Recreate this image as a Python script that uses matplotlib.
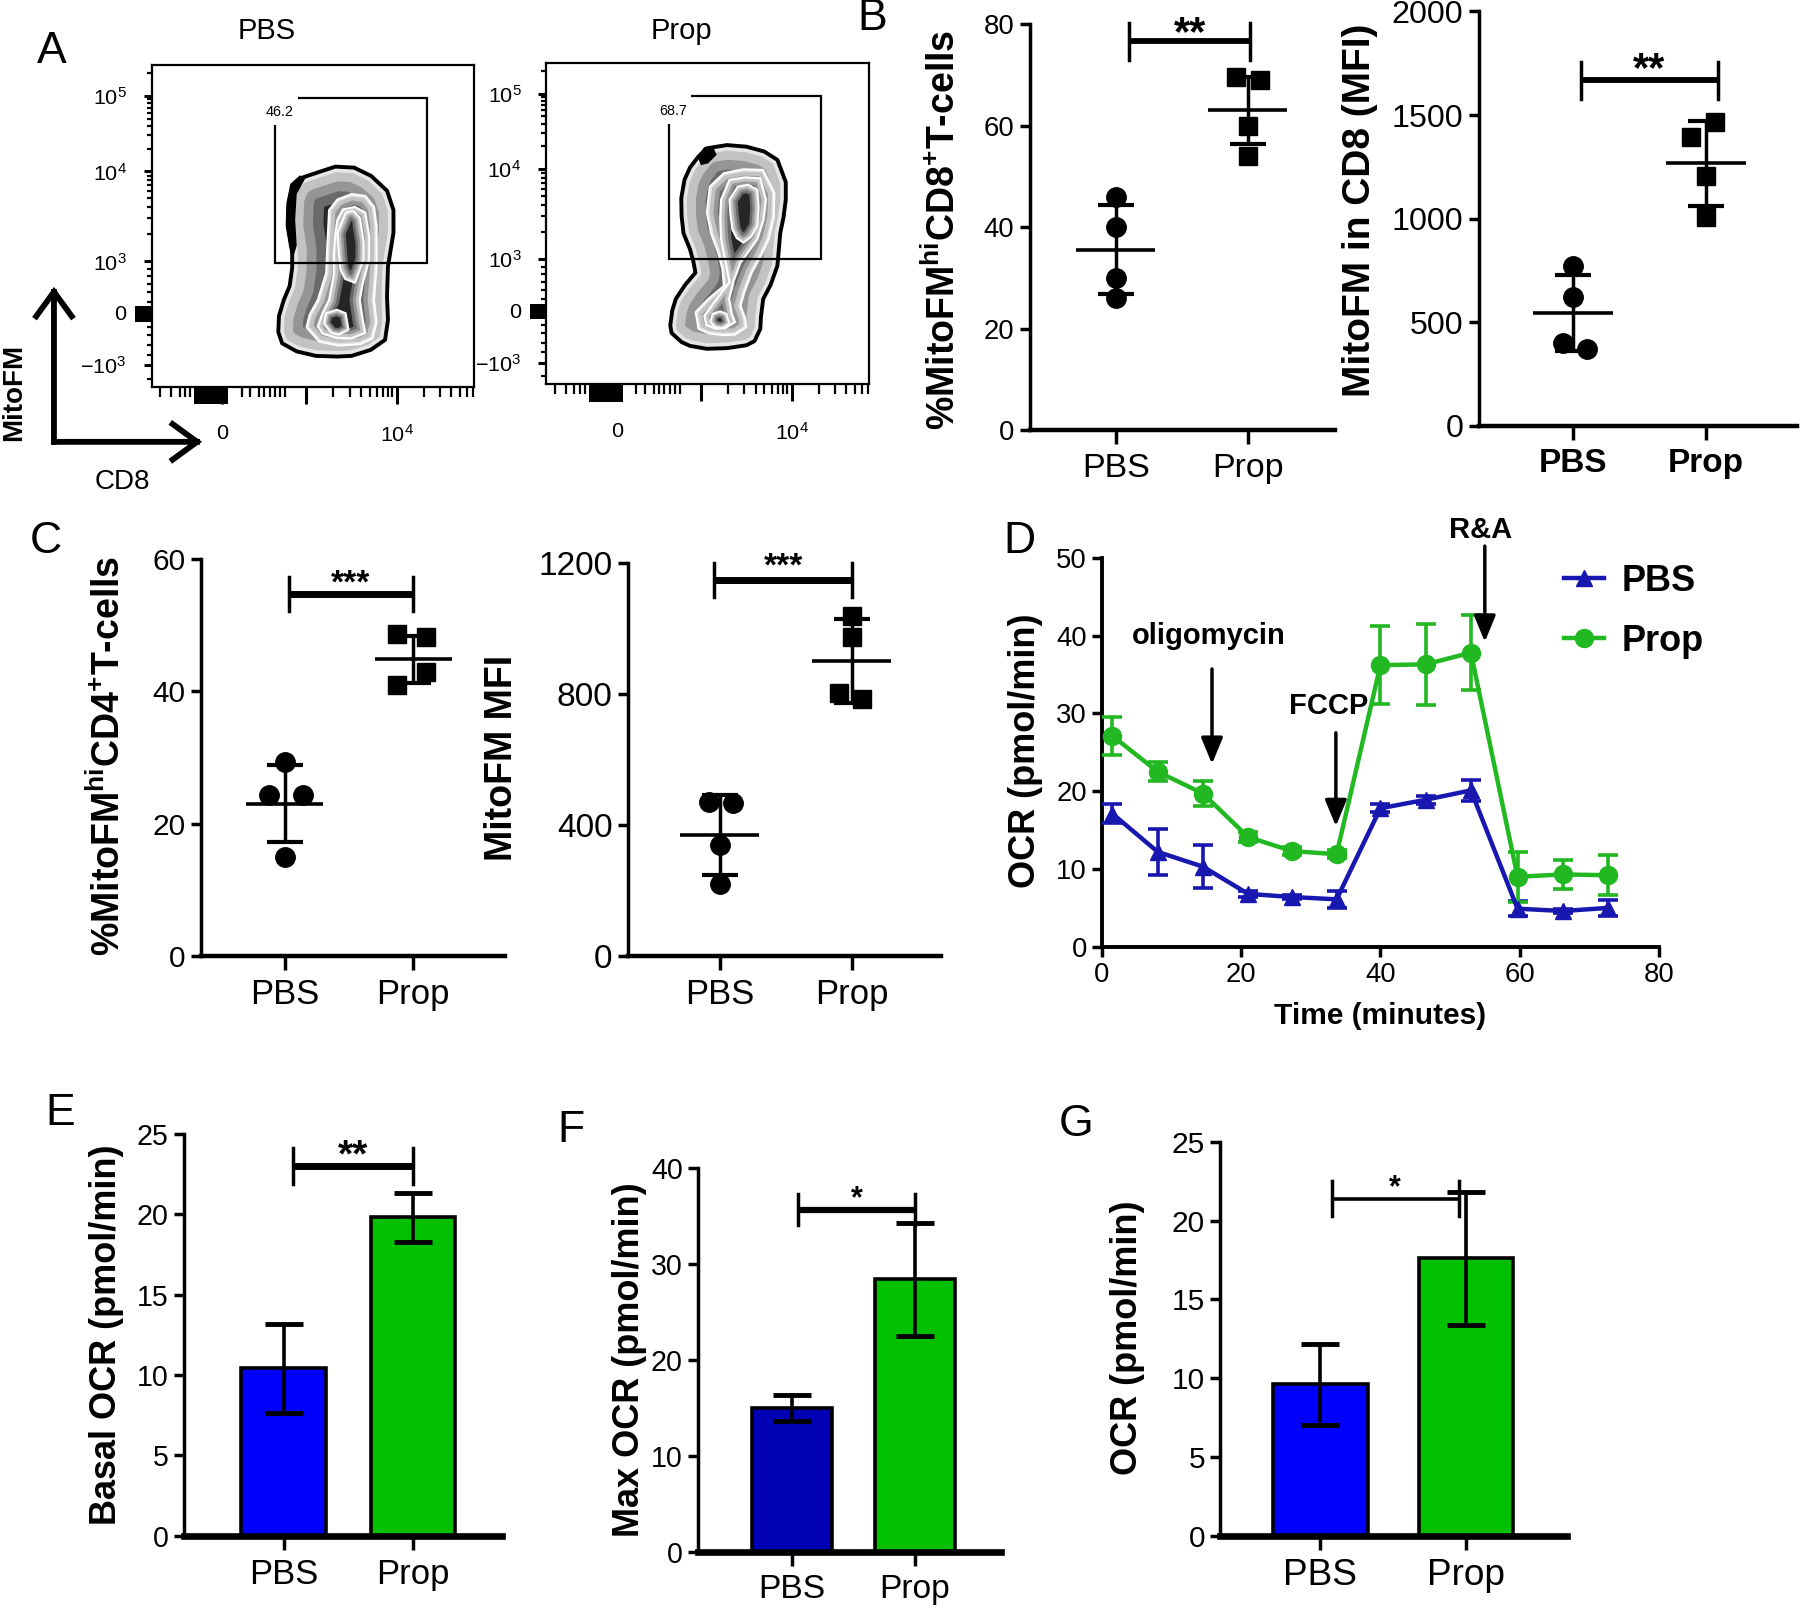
"""
Figure: MitoFM staining (A-C), Seahorse OCR trace (D) and OCR summaries (E-G)
"""

import matplotlib
matplotlib.use("Agg")
import matplotlib.pyplot as plt
import numpy as np
from matplotlib import font_manager
from matplotlib.patches import Polygon, Rectangle, FancyArrowPatch
from matplotlib.transforms import blended_transform_factory


# ─────────────────────────────────────────────
# DATA
# ─────────────────────────────────────────────

GROUPS = ["PBS", "Prop"]

# A: flow plots, contour outlines (plot units 0-100)
PBS_OUTER = [(51.5, 66.7), (57, 68.5), (62.8, 68.2), (68.1, 65.6), (73, 61), (75.0, 55), (75.0, 47.9),
	(73.3, 37.5), (73, 28), (73.3, 20.8), (72.4, 14.6), (68, 11.5), (62, 9.6), (57.6, 9.4), (51, 9.6),
	(45, 11), (40.5, 13.5), (39.3, 17), (39.5, 22), (41, 27), (42.8, 31.3), (43.6, 37), (43.6, 42.7),
	(42.5, 50), (42.8, 58.3), (44, 62), (46.5, 65)]
PBS_C2 = [(57.6, 58.3), (62, 60), (66.3, 59.4), (69.0, 56), (69.8, 50), (69.8, 37.5), (69, 27), (69.8, 20),
	(68.5, 15), (64.6, 13.2), (58, 12.8), (52, 14), (48, 18.5), (49, 22.5), (51.5, 27), (54.1, 35.4),
	(54.5, 45), (55, 55)]
PBS_C3 = [(59.3, 55.2), (63, 56), (66.3, 54.2), (67.5, 47), (67.5, 39.6), (65.5, 32), (64.6, 27), (65.5, 21),
	(66.3, 16.7), (62, 15), (57.6, 15.1), (53, 16.5), (51.5, 18.75), (53, 23), (55, 27), (56.5, 35),
	(56.5, 41.7), (57, 48), (57.6, 52)]
PBS_C4 = [(60.2, 54.2), (62.5, 54.8), (64.6, 52.6), (65.8, 45), (65.8, 39.6), (63.1, 32.3), (60, 33.5),
	(58.5, 36.5), (58, 42), (57.6, 47.9)]
PBS_LOW = [(54.1, 22.9), (57.5, 24), (60.2, 22.9), (61.1, 17.7), (58, 16.2), (55.8, 16.7), (53.5, 19.5)]
PBS_EDGE = [(46, 65.5), (43.2, 63), (42, 57), (41.8, 50), (42.8, 44), (43.6, 40), (44.8, 44), (44.3, 52),
	(44.8, 60), (47.5, 65)]

PROP_OUTER = [(49.7, 73.5), (56, 74.5), (62, 74), (67.5, 72.5), (71.6, 69.9), (74.2, 63), (74.2, 57.5),
	(73.5, 52), (72.5, 47.2), (71.6, 36.9), (69.5, 31), (67.2, 26.6), (66.5, 21), (66.3, 17.3), (64.5, 13.5),
	(62, 12.2), (56, 11.3), (49.7, 11.1), (44.5, 12), (41.9, 13.2), (38.8, 16), (38.4, 18.4), (39, 23),
	(40.1, 26.6), (43, 31), (46.2, 34.8), (45.5, 38.5), (44.5, 42.1), (42.5, 47), (41.9, 52.4), (41.8, 58),
	(42.8, 63.7), (44.5, 67.5), (47.1, 70.9)]
PROP_C2 = [(55, 65.8), (61, 67), (67.2, 66.8), (70.7, 59.6), (70.5, 52), (68.9, 45.2), (66.5, 40), (63.7, 34.8),
	(61.5, 29), (60.2, 24.5), (61.5, 21), (62, 17.8), (58.5, 15.5), (55, 15.3), (50.5, 15.8), (47.1, 17.3),
	(46.2, 22.5), (50, 26.5), (55, 30.7), (54.5, 36), (53.2, 41), (51, 47), (49.7, 53.4), (50.6, 61.6)]
PROP_C3 = [(56.7, 63.7), (61.5, 64.5), (66.3, 64.2), (68.1, 57.5), (67.3, 51), (65.4, 45.2), (62.5, 41),
	(60.2, 37.9), (58, 32), (56.7, 26.6), (57.5, 22), (58.5, 19.4), (55.5, 17.5), (52.4, 17.3), (49.5, 18.5),
	(48.9, 21.4), (53, 27), (56.7, 31.8), (55.5, 38), (54.1, 45.2), (53.8, 52), (54.1, 57.5)]
PROP_C4 = [(59.3, 61.6), (62.5, 62.2), (65.4, 60.6), (65.8, 55), (65.4, 49.3), (63.5, 46), (61.1, 44.1),
	(59, 45.5), (57.6, 48.2), (57, 53), (56.7, 57.5)]
PROP_LOW = [(51.5, 22), (53.8, 22.8), (55.8, 22), (56.7, 18.9), (54.5, 17.5), (52.4, 17.8), (50.8, 19.5)]
PROP_EDGE = [(47.1, 70.9), (49, 73.6), (51.5, 73.8), (52.5, 71.5), (50, 69), (48, 68.5)]

GATE_PBS = (38.4, 38.5, 85.5, 90.0)		# x0, y0, x1, y1
GATE_PROP = (38.0, 38.9, 85.1, 89.7)
GATE_PCT = ["46.2", "68.7"]

FLOW_Y_MAJOR = [6.8, 23.0, 39.0, 67.0, 90.5]
FLOW_Y_LABELS = [r"$\mathregular{-10^3}$", "0", r"$\mathregular{10^3}$", r"$\mathregular{10^4}$", r"$\mathregular{10^5}$"]
FLOW_Y_MINOR = [2.5, 10, 13, 16, 18.5, 26.5, 29.5, 32, 34.5, 36.5, 47.4, 52.4, 55.9, 58.6, 60.8, 62.7, 64.3,
	65.7, 74.1, 78.2, 81.1, 83.4, 85.3, 86.9, 88.2, 89.4, 97.6]
FLOW_X_MAJOR = [22.0, 48.0, 76.0]
FLOW_X_LABELS = ["0", "", r"$\mathregular{10^4}$"]
FLOW_X_MINOR = [2.6, 6.0, 8.7, 10.5, 12.0, 27.9, 30.5, 33.2, 34.9, 36.6, 38.2, 39.8, 41.3, 56.4, 61.4, 64.9,
	67.6, 69.8, 71.7, 73.3, 74.7, 84.4, 89.4, 92.9, 95.6, 97.8, 99.7]

# B: %MitoFM-hi CD8 and MitoFM MFI in CD8
B1_PBS = [46.0, 40.0, 30.0, 26.0]
B1_PROP = [69.5, 69.0, 60.0, 54.0]
B1_MEAN = [35.6, 63.0]
B1_SD = [8.8, 6.6]

B2_PBS = [770, 620, 400, 370]
B2_PROP = [1465, 1395, 1205, 1010]
B2_MEAN = [544, 1268]
B2_SD = [185, 205]

# C: %MitoFM-hi CD4 and MitoFM MFI
C1_PBS = [29.3, 24.3, 24.3, 15.0]
C1_PROP = [48.7, 48.2, 42.9, 41.0]
C1_MEAN = [23.0, 44.8]
C1_SD = [5.8, 3.6]

C2_PBS = [472, 468, 340, 219]
C2_PROP = [1040, 975, 805, 785]
C2_MEAN = [370, 902]
C2_SD = [121, 128]

# D: Seahorse OCR trace
TIME_MIN = [1.5, 8.0, 14.5, 21.0, 27.3, 33.7, 40.0, 46.5, 53.0, 59.7, 66.2, 72.7]
OCR_PBS = [17.1, 12.2, 10.3, 6.8, 6.4, 6.1, 17.8, 18.9, 20.1, 4.9, 4.6, 5.0]
OCR_PBS_ERR = [1.2, 3.0, 2.8, 0.4, 0.3, 1.1, 0.5, 0.5, 1.3, 1.0, 0.3, 1.0]
OCR_PROP = [27.1, 22.5, 19.7, 14.1, 12.3, 11.9, 36.2, 36.3, 37.8, 9.0, 9.3, 9.2]
OCR_PROP_ERR = [2.4, 1.2, 1.6, 0.6, 0.5, 0.5, 5.0, 5.2, 4.8, 3.2, 1.9, 2.6]
INJECTIONS = ["oligomycin", "FCCP", "R&A"]
INJECTION_TIME = [15.8, 33.6, 55.0]

# E-G: OCR summaries (mean, SD)
E_MEAN = [10.4, 19.8]
E_SD = [2.75, 1.5]
F_MEAN = [15.0, 28.4]
F_SD = [1.35, 5.85]
G_MEAN = [9.6, 17.6]
G_SD = [2.55, 4.25]


# ─────────────────────────────────────────────
# Style
# ─────────────────────────────────────────────

W, H = 1568, 1402		# layout grid (reference pixels)

_names = {f.name for f in font_manager.fontManager.ttflist}
MAIN = "Liberation Sans"
if "Liberation Sans Narrow" in _names:
	NARROW, NS = "Liberation Sans Narrow", 1.0
else:
	NARROW, NS = "Liberation Sans", 0.86

plt.rcParams["font.family"] = [MAIN, "DejaVu Sans"]
plt.rcParams["mathtext.fontset"] = "custom"
plt.rcParams["mathtext.rm"] = MAIN

BLUE = "#0000ff"
DARK_BLUE = "#0000b4"
GREEN = "#00c000"
LINE_BLUE = "#1818b0"
LINE_GREEN = "#22b822"

fig = plt.figure(figsize=(18, 16.09), dpi=100)


def rect(x0, y0, x1, y1):
	return [x0/W, 1 - y1/H, (x1 - x0)/W, (y1 - y0)/H]

def ftext(x, y, s, **kw):
	kw.setdefault("ha", "center")
	kw.setdefault("va", "center")
	fig.text(x/W, 1 - y/H, s, **kw)


# ─────────────────────────────────────────────
# Panel helpers
# ─────────────────────────────────────────────

def draw_density(ax, levels, edge):
	strokes = [(1.0, "#6a6a6a"), (0.7, "#959595"), (0.42, "#c2c2c2"), (0.16, "#e6e6e6")]
	widths = [50, 22, 15, 12, 9]
	for i, pts in enumerate(levels):
		z = 2 + i
		body = Polygon(pts, closed=True, facecolor="#262626", edgecolor="none", zorder=z)
		ax.add_patch(body)
		for frac, col in strokes:
			s = Polygon(pts, closed=True, facecolor="none", edgecolor=col, lw=widths[i]*frac,
				    joinstyle="round", zorder=z)
			ax.add_patch(s)
			s.set_clip_path(body)
		ax.add_patch(Polygon(pts, closed=True, fill=False, edgecolor="black" if i == 0 else "white",
				     lw=2.8 if i == 0 else 1.3, joinstyle="round", zorder=z))
		if i == 0:
			ax.add_patch(Polygon(edge, closed=True, facecolor="black", edgecolor="black", lw=1, zorder=2.5))


def flow_panel(box, levels, edge, gate, pct):
	ax = fig.add_axes(rect(*box))
	ax.set_xlim(0, 100)
	ax.set_ylim(0, 100)
	for s in ax.spines.values():
		s.set_linewidth(1.6)

	draw_density(ax, levels, edge)

	x0, y0, x1, y1 = gate
	ax.add_patch(Rectangle((x0, y0), x1 - x0, y1 - y0, fill=False, edgecolor="black", lw=1.6, zorder=10))
	ax.add_patch(Rectangle((x0 - 0.6, y1 - 8.5), 7.5, 9.5, facecolor="white", edgecolor="none", zorder=11))
	ax.text(x0 + 1.3, y1 - 4.6, pct, ha="center", va="center", fontsize=12*NS, family=NARROW, zorder=12)

	ax.set_yticks(FLOW_Y_MAJOR)
	ax.set_yticklabels(FLOW_Y_LABELS)
	ax.set_yticks(FLOW_Y_MINOR, minor=True)
	ax.set_xticks(FLOW_X_MAJOR)
	ax.set_xticklabels(FLOW_X_LABELS)
	ax.set_xticks(FLOW_X_MINOR, minor=True)
	ax.tick_params(axis="y", which="major", length=6, width=2.2, pad=12, labelsize=18*NS, labelfontfamily=NARROW)
	ax.tick_params(axis="y", which="minor", length=3.5, width=1.6)
	ax.tick_params(axis="x", which="major", length=12, width=2.2, pad=15, labelsize=18*NS, labelfontfamily=NARROW)
	ax.tick_params(axis="x", which="minor", length=7, width=1.6)

	# dense tick clusters around zero
	ax.add_patch(Rectangle((-0.052, 20.3), 0.052, 4.7, transform=blended_transform_factory(ax.transAxes, ax.transData),
			       facecolor="black", edgecolor="none", clip_on=False))
	ax.add_patch(Rectangle((13.1, -0.054), 10.5, 0.054, transform=blended_transform_factory(ax.transData, ax.transAxes),
			       facecolor="black", edgecolor="none", clip_on=False))
	return ax


def cat_axes(box, cats_px, ymax, ystep, ysize, xsize, xfont=None, xweight="normal", bottom_lw=3.2):
	x0, y0, x1, y1 = box
	px_pbs, px_prop = cats_px
	unit = px_prop - px_pbs
	ax = fig.add_axes(rect(x0, y0, x1, y1))
	ax.set_xlim((x0 - px_pbs)/unit, 1 + (x1 - px_prop)/unit)
	ax.set_ylim(0, ymax)
	for s in ("top", "right"):
		ax.spines[s].set_visible(False)
	ax.spines["left"].set_linewidth(2.5)
	ax.spines["bottom"].set_linewidth(bottom_lw)
	ax.set_xticks([0, 1])
	ax.set_xticklabels(GROUPS)
	ax.set_yticks(np.arange(0, ymax + ystep/2, ystep))
	ax.tick_params(axis="y", length=7, width=2.5, pad=4, labelsize=ysize*NS, labelfontfamily=NARROW)
	ax.tick_params(axis="x", length=10, width=2.5, pad=6)
	for lab in ax.get_xticklabels():
		lab.set_fontsize(xsize if xfont is None else xsize*NS)
		lab.set_fontfamily(MAIN if xfont is None else xfont)
		lab.set_fontweight(xweight)
	return ax


def dots(ax, pbs, pbs_dx, prop, prop_dx, means, sds):
	ax.plot(np.array(pbs_dx), pbs, "o", color="black", ms=14, clip_on=False, zorder=4)
	ax.plot(1 + np.array(prop_dx), prop, "s", color="black", ms=13, clip_on=False, zorder=4)
	ax.errorbar([0, 1], means, yerr=sds, fmt="none", ecolor="black", elinewidth=2.5, capsize=13,
		    capthick=3, zorder=3)
	ax.hlines(means, [-0.3, 0.7], [0.3, 1.3], color="black", lw=2.6, zorder=3)


def bars(ax, means, sds, colors):
	ax.bar([0, 1], means, width=0.65, color=colors, edgecolor="black", lw=2.6, zorder=2)
	ax.errorbar([0, 1], means, yerr=sds, fmt="none", ecolor="black", elinewidth=2.6, capsize=14,
		    capthick=3.5, zorder=3)


def sig(ax, x0, x1, y, h, stars, star_y, size, lw=4.2):
	ax.plot([x0, x1], [y, y], color="black", lw=lw, solid_capstyle="butt", clip_on=False)
	for x in (x0, x1):
		ax.plot([x, x], [y - h, y + h], color="black", lw=2.5, clip_on=False)
	ax.annotate(stars, xy=((x0 + x1)/2, star_y), xytext=(0, -0.58*size), textcoords="offset points",
		    ha="center", va="baseline", fontsize=size, fontweight="bold", annotation_clip=False)


# ─────────────────────────────────────────────
# A
# ─────────────────────────────────────────────

flow_panel((132, 57, 413, 337), [PBS_OUTER, PBS_C2, PBS_C3, PBS_C4, PBS_LOW], PBS_EDGE, GATE_PBS, GATE_PCT[0])
flow_panel((476, 55, 757, 335), [PROP_OUTER, PROP_C2, PROP_C3, PROP_C4, PROP_LOW], PROP_EDGE, GATE_PROP, GATE_PCT[1])
ftext(232, 27, GROUPS[0], fontsize=21)
ftext(594, 27, GROUPS[1], fontsize=21)
ftext(12, 342, "MitoFM", rotation=90, fontsize=20, fontweight="bold")
ftext(107, 420, "CD8", fontsize=20)
for end in [(47, 250), (176, 385)]:
	fig.add_artist(FancyArrowPatch((47/W, 1 - 385/H), (end[0]/W, 1 - end[1]/H), transform=fig.transFigure,
				       arrowstyle="->,head_length=0.55,head_width=0.4", mutation_scale=32, lw=4.2,
				       color="black", shrinkA=0, shrinkB=0, joinstyle="miter", capstyle="projecting"))

# ─────────────────────────────────────────────
# B
# ─────────────────────────────────────────────

ax = cat_axes((897, 21, 1163, 375), (972, 1087), 80, 20, 23, 24.5)
dots(ax, B1_PBS, [0, 0, 0, 0], B1_PROP, [-0.09, 0.09, 0, 0], B1_MEAN, B1_SD)
sig(ax, 0.1, 1.02, 76.6, 3.7, "**", 80.6, 30)
ftext(822, 200, r"%MitoFM$\mathregular{^{hi}}$CD8$\mathregular{^{+}}$T-cells", rotation=90, fontsize=27, fontweight="bold")

ax = cat_axes((1288, 10, 1565, 371), (1370, 1486), 2000, 500, 27, 24, xweight="bold")
dots(ax, B2_PBS, [0, 0, -0.07, 0.11], B2_PROP, [0.07, -0.11, 0, 0], B2_MEAN, B2_SD)
sig(ax, 0.06, 1.09, 1667, 88, "**", 1783, 30)
ftext(1185, 183, "MitoFM in CD8 (MFI)", rotation=90, fontsize=28, fontweight="bold")

# ─────────────────────────────────────────────
# C
# ─────────────────────────────────────────────

ax = cat_axes((175, 487, 440, 833), (248, 360), 60, 20, 25, 29, xfont=NARROW)
dots(ax, C1_PBS, [0, -0.12, 0.14, 0], C1_PROP, [-0.13, 0.1, 0.1, -0.13], C1_MEAN, C1_SD)
sig(ax, 0.03, 1.0, 54.7, 2.5, "***", 57.8, 24, lw=5)
ftext(95, 659, r"%MitoFM$\mathregular{^{hi}}$CD4$\mathregular{^{+}}$T-cells", rotation=90, fontsize=27, fontweight="bold")

ax = cat_axes((547, 491, 820, 833), (627, 742), 1200, 400, 28, 29, xfont=NARROW)
dots(ax, C2_PBS, [-0.08, 0.1, 0, 0], C2_PROP, [0, 0, -0.1, 0.08], C2_MEAN, C2_SD)
sig(ax, -0.04, 1.0, 1150, 53, "***", 1222, 24, lw=5)
ftext(437, 660, "MitoFM MFI", rotation=90, fontsize=27, fontweight="bold")

# ─────────────────────────────────────────────
# D
# ─────────────────────────────────────────────

ax = fig.add_axes(rect(960, 486, 1445, 825))
ax.set_xlim(0, 80)
ax.set_ylim(0, 50)
for s in ("top", "right"):
	ax.spines[s].set_visible(False)
for s in ("left", "bottom"):
	ax.spines[s].set_linewidth(2.8)
ax.errorbar(TIME_MIN, OCR_PBS, yerr=OCR_PBS_ERR, fmt="none", ecolor=LINE_BLUE, elinewidth=2.6, capsize=7.5,
	    capthick=2.6, zorder=3)
ax.errorbar(TIME_MIN, OCR_PROP, yerr=OCR_PROP_ERR, fmt="none", ecolor=LINE_GREEN, elinewidth=2.6, capsize=7.5,
	    capthick=2.6, zorder=3)
h_pbs, = ax.plot(TIME_MIN, OCR_PBS, "-^", color=LINE_BLUE, lw=3.2, ms=12, zorder=4, clip_on=False)
h_prop, = ax.plot(TIME_MIN, OCR_PROP, "-o", color=LINE_GREEN, lw=3.2, ms=13, zorder=4, clip_on=False)
ax.set_xticks([0, 20, 40, 60, 80])
ax.set_yticks([0, 10, 20, 30, 40, 50])
ax.tick_params(length=7, width=2.5, pad=4, labelsize=23*NS, labelfontfamily=NARROW)
ax.set_xlabel("Time (minutes)", fontsize=25*NS, family=NARROW, fontweight="bold", labelpad=10)
ax.legend([h_pbs, h_prop], GROUPS, loc="upper left", bbox_to_anchor=(0.83, 0.985), frameon=False,
	  borderaxespad=0, borderpad=0, handlelength=1.1, handletextpad=0.5, labelspacing=0.7,
	  prop=dict(size=26, weight="bold"))
for name, t, (y_tail, y_head), (tx, ty) in zip(INJECTIONS, INJECTION_TIME,
					       [(35.7, 23.5), (27.5, 15.5), (51.5, 39.2)],
					       [(15.3, 39.9), (32.5, 31.0), (54.4, 53.6)]):
	ax.annotate("", xy=(t, y_head), xytext=(t, y_tail), annotation_clip=False,
		    arrowprops=dict(arrowstyle="-|>,head_length=0.8,head_width=0.33", mutation_scale=20, lw=2.5,
				    color="black", shrinkA=0, shrinkB=0))
	ax.text(tx, ty, name, ha="center", va="center", fontsize=21, fontweight="bold")
ftext(893, 654, "OCR (pmol/min)", rotation=90, fontsize=26, fontweight="bold")

# ─────────────────────────────────────────────
# E, F, G
# ─────────────────────────────────────────────

ax = cat_axes((160, 988, 437, 1338), (247, 360), 25, 5, 24, 29, xfont=NARROW, bottom_lw=4.8)
bars(ax, E_MEAN, E_SD, [BLUE, GREEN])
sig(ax, 0.07, 1.0, 23.0, 1.1, "**", 24.4, 28, lw=5)
ftext(93, 1163, "Basal OCR (pmol/min)", rotation=90, fontsize=26, fontweight="bold")

ax = cat_axes((608, 1018, 872, 1352), (690, 797), 40, 10, 24, 28, xfont=NARROW, bottom_lw=4.8)
bars(ax, F_MEAN, F_SD, [DARK_BLUE, GREEN])
sig(ax, 0.05, 1.0, 35.7, 1.65, "*", 37.8, 22, lw=4.5)
ftext(548, 1185, "Max OCR (pmol/min)", rotation=90, fontsize=26, fontweight="bold")

ax = cat_axes((1063, 995, 1365, 1338), (1150, 1277), 25, 5, 25, 31, xfont=NARROW, bottom_lw=4.8)
bars(ax, G_MEAN, G_SD, [BLUE, GREEN])
sig(ax, 0.08, 0.95, 21.4, 1.1, "*", 22.7, 22, lw=2.6)
ftext(982, 1166, "OCR (pmol/min)", rotation=90, fontsize=26, fontweight="bold")

# panel letters
for letter, x, y in [("A", 45, 45), ("B", 760, 16), ("C", 40, 472), ("D", 888, 472),
		     ("E", 52, 970), ("F", 497, 985), ("G", 937, 980)]:
	ftext(x, y, letter, fontsize=32)

fig.savefig("out.png", dpi=100)
